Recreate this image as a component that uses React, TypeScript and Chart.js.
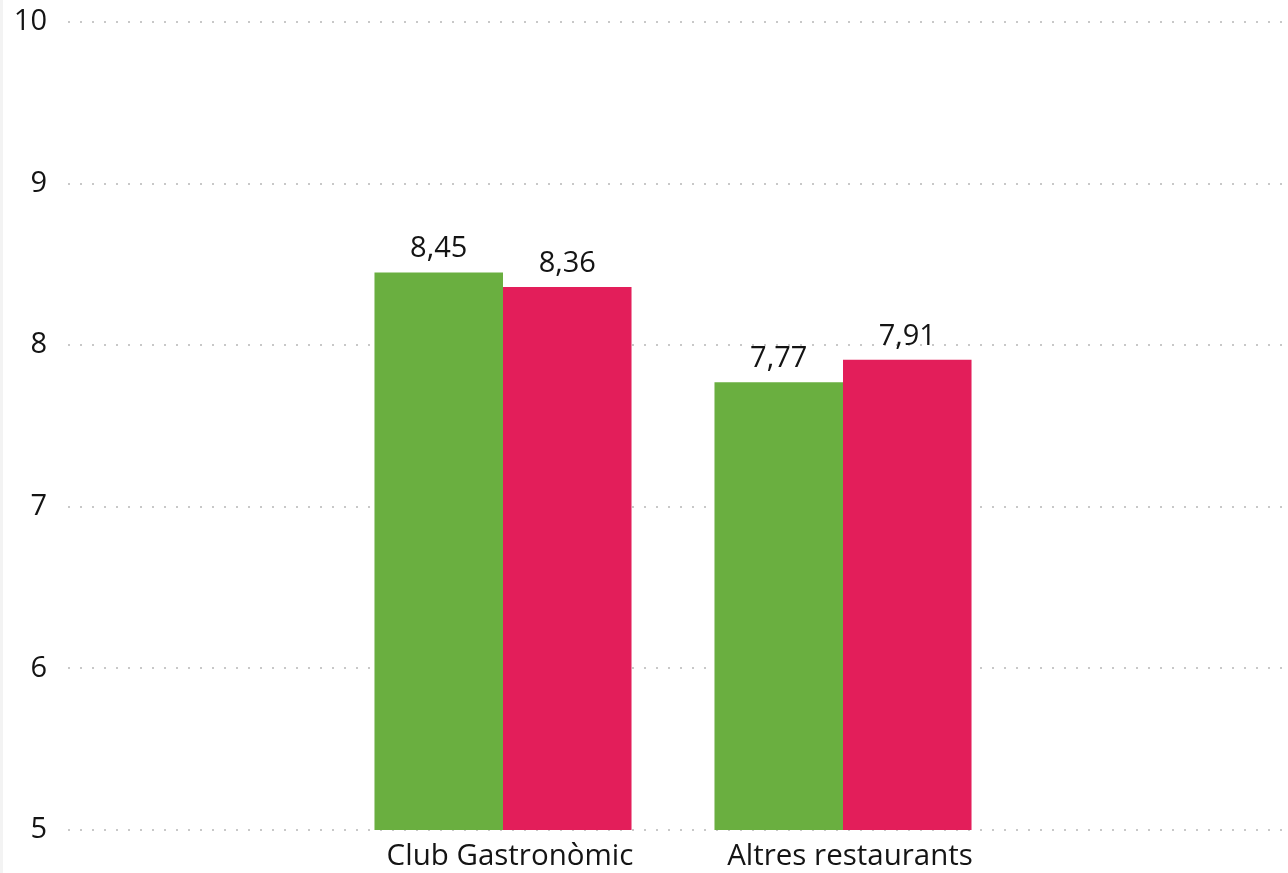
import React, { useEffect, useRef } from "react";
import { Chart, registerables } from "chart.js";

Chart.register(...registerables);

const categories = ["Club Gastronòmic", "Altres restaurants"];
const categoryPositions = [1, 2];
const seriesA = [8.45, 7.77];
const seriesB = [8.36, 7.91];
const yTicks = [5, 6, 7, 8, 9, 10];

const GREEN = "#6AAF40";
const PINK = "#E31E5A";
const TEXT = "#141414";
const FONT = "'Open Sans', 'Noto Sans', sans-serif";

const fmt = (v: number) => v.toFixed(2).replace(".", ",");

const valueLabels = {
  id: "valueLabels",
  afterDatasetsDraw(chart: any) {
    const ctx = chart.ctx;
    ctx.save();
    ctx.font = `29px ${FONT}`;
    ctx.fillStyle = TEXT;
    ctx.textAlign = "center";
    ctx.textBaseline = "alphabetic";
    chart.data.datasets.forEach((ds: any, i: number) => {
      const meta = chart.getDatasetMeta(i);
      meta.data.forEach((el: any, j: number) => {
        const v = ds.data[j].y;
        ctx.fillText(fmt(v), el.x, el.y - 15);
      });
    });
    ctx.restore();
  },
};

export default function App() {
  const ref = useRef<HTMLCanvasElement | null>(null);
  useEffect(() => {
    if (!ref.current) return;
    const chart = new Chart(ref.current, {
      type: "bar",
      data: {
        datasets: [
          {
            label: "A",
            data: categoryPositions.map((x, i) => ({ x, y: seriesA[i] })),
            backgroundColor: GREEN,
            categoryPercentage: 0.756,
            barPercentage: 1,
          },
          {
            label: "B",
            data: categoryPositions.map((x, i) => ({ x, y: seriesB[i] })),
            backgroundColor: PINK,
            categoryPercentage: 0.756,
            barPercentage: 1,
          },
        ],
      },
      options: {
        animation: false,
        responsive: false,
        maintainAspectRatio: false,
        layout: { padding: { top: 22, right: 0, left: 0, bottom: 0 } },
        plugins: { legend: { display: false }, tooltip: { enabled: false } },
        scales: {
          x: {
            type: "linear",
            offset: false,
            min: -0.2794,
            max: 3.3088,
            grid: { display: false, drawTicks: false, offset: false },
            border: { display: false },
            afterBuildTicks: (scale: any) => {
              scale.ticks = categoryPositions.map((v) => ({ value: v }));
            },
            afterFit: (scale: any) => {
              scale.height = 43;
              scale.paddingLeft = 0;
              scale.paddingRight = 0;
            },
            ticks: {
              autoSkip: false,
              maxRotation: 0,
              padding: 9,
              labelOffset: 7,
              color: TEXT,
              font: { size: 29.5, family: FONT },
              callback: (v: any) => {
                const idx = categoryPositions.indexOf(Number(v));
                return idx >= 0 ? categories[idx] : "";
              },
            },
          },
          y: {
            min: 5,
            max: 10,
            afterBuildTicks: (scale: any) => {
              scale.ticks = yTicks.map((v) => ({ value: v }));
            },
            afterFit: (scale: any) => {
              scale.width = 68;
              scale.paddingTop = 0;
              scale.paddingBottom = 0;
            },
            border: { display: false, dash: [2, 10] },
            grid: {
              color: "#C8C8C8",
              lineWidth: 2,
              drawTicks: false,
            },
            ticks: {
              padding: 21,
              color: TEXT,
              font: { size: 29, family: FONT },
              callback: (v: any) => String(v),
            },
          },
        },
      },
      plugins: [valueLabels],
    } as any);
    return () => chart.destroy();
  }, []);
  return (
    <div style={{ position: "fixed", left: 0, top: 0, width: 1288, height: 873, background: "#fff" }}>
      <canvas ref={ref} width={1288} height={873} style={{ display: "block" }} />
      <div style={{ position: "absolute", left: 0, top: 0, width: 3, height: 873, background: "#F3F3F3" }} />
    </div>
  );
}
